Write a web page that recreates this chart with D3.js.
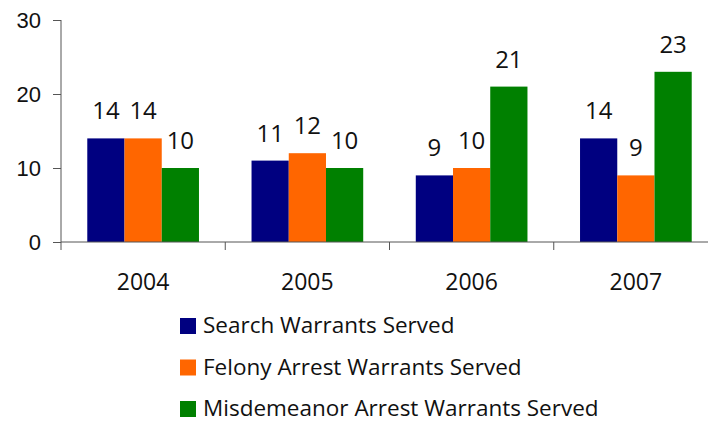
<!DOCTYPE html>
<html>
<head>
<meta charset="utf-8">
<script src="https://d3js.org/d3.v7.min.js"></script>
<style>
    body { margin: 0; background: #ffffff; }
    svg { display: block; font-family: "Open Sans", "Noto Sans", sans-serif; }
</style>
</head>
<body>
<div id="chart"></div>
<script>
// Chart data
const years = ['2004', '2005', '2006', '2007'];
const seriesNames = ['Search Warrants Served', 'Felony Arrest Warrants Served', 'Misdemeanor Arrest Warrants Served'];
const searchWarrants = [14, 11, 9, 14];
const felonyWarrants = [14, 12, 10, 9];
const misdemeanorWarrants = [10, 10, 21, 23];
const yTicks = [0, 10, 20, 30];
const colors = ['#000080', '#ff6600', '#008000'];

const seriesValues = [searchWarrants, felonyWarrants, misdemeanorWarrants];

const width = 708, height = 422;
const plot = { left: 61, right: 718, top: 20, bottom: 242 };

const svg = d3.select('#chart').append('svg')
    .attr('width', width)
    .attr('height', height);

const x = d3.scaleBand()
    .domain(years)
    .range([plot.left, plot.right]);

const groupWidth = x.bandwidth() * 0.68;
const xInner = d3.scaleBand()
    .domain(d3.range(seriesNames.length))
    .range([(x.bandwidth() - groupWidth) / 2, (x.bandwidth() + groupWidth) / 2]);

const y = d3.scaleLinear()
    .domain([0, 30])
    .range([plot.bottom, plot.top]);

// Bars
const groups = svg.append('g').selectAll('g')
    .data(years)
    .enter()
    .append('g')
    .attr('transform', d => `translate(${x(d)},0)`);

groups.selectAll('rect')
    .data((d, i) => seriesValues.map((vals, s) => ({ s, v: vals[i] })))
    .enter()
    .append('rect')
    .attr('x', d => xInner(d.s))
    .attr('width', xInner.bandwidth())
    .attr('y', d => y(d.v))
    .attr('height', d => y(0) - y(d.v))
    .attr('fill', d => colors[d.s]);

groups.selectAll('text')
    .data((d, i) => seriesValues.map((vals, s) => ({ s, v: vals[i] })))
    .enter()
    .append('text')
    .attr('x', d => xInner(d.s) + xInner.bandwidth() / 2)
    .attr('y', d => y(d.v) - 19)
    .attr('text-anchor', 'middle')
    .style('font-size', '24px')
    .style('fill', '#111')
    .text(d => d.v);

// Y axis
const yAxis = svg.append('g')
    .attr('transform', `translate(${plot.left},0)`)
    .call(d3.axisLeft(y).tickValues(yTicks).tickSize(8).tickPadding(12));
yAxis.select('.domain').attr('d', `M0,${plot.top}V${plot.bottom + 8}`);
yAxis.selectAll('line, .domain').attr('stroke', '#555');
yAxis.selectAll('text')
    .style('font-size', '22px')
    .style('fill', '#111')
    .attr('font-family', null);

// X axis with tick marks at category boundaries
const xAxis = svg.append('g')
    .attr('transform', `translate(0,${plot.bottom})`);
xAxis.append('line')
    .attr('x1', plot.left).attr('x2', plot.right)
    .attr('stroke', '#555');
xAxis.selectAll('line.tick')
    .data(years.slice(1))
    .enter()
    .append('line')
    .attr('class', 'tick')
    .attr('x1', d => x(d)).attr('x2', d => x(d))
    .attr('y1', 0).attr('y2', 8)
    .attr('stroke', '#555');
xAxis.selectAll('text')
    .data(years)
    .enter()
    .append('text')
    .attr('x', d => x(d) + x.bandwidth() / 2)
    .attr('y', 48)
    .attr('text-anchor', 'middle')
    .style('font-size', '23px')
    .style('fill', '#111')
    .text(d => d);

// Legend
const legend = svg.append('g')
    .attr('transform', 'translate(180,318)');
const items = legend.selectAll('g')
    .data(seriesNames)
    .enter()
    .append('g')
    .attr('transform', (d, i) => `translate(0,${i * 41.5})`);
items.append('rect')
    .attr('width', 16).attr('height', 16)
    .attr('fill', (d, i) => colors[i]);
items.append('text')
    .attr('x', 23)
    .attr('y', 15)
    .style('font-size', '22.5px')
    .style('fill', '#111')
    .text(d => d);
</script>
</body>
</html>
